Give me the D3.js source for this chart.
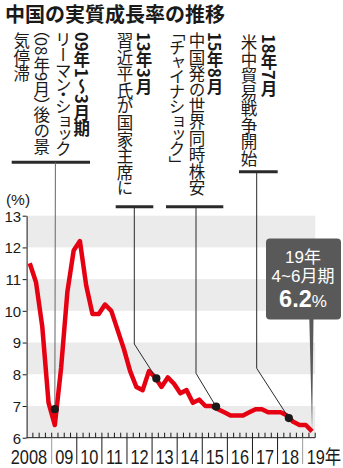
<!DOCTYPE html>
<html>
<head>
<meta charset="utf-8">
<script src="https://cdn.jsdelivr.net/npm/d3@7"></script>
<style>
  html, body { margin: 0; padding: 0; background: #fff; }
  svg { display: block; }
  .vcol { writing-mode: vertical-rl; text-orientation: mixed; font-feature-settings: "vpal" 1; }
  .tcy { text-combine-upright: all; }
</style>
</head>
<body>
<svg id="chart" width="343" height="468"></svg>
<script>
// ---- data ----
const title = "中国の実質成長率の推移";
const startYear = 2008;
// real GDP growth, % year on year, quarterly from 2008 Q1 to 2019 Q2
const growth = [
  11.5, 10.9, 9.5, 7.1,
  6.4, 8.2, 10.6, 11.9,
  12.2, 10.8, 9.9, 9.9,
  10.2, 10.0, 9.4, 8.8,
  8.1, 7.6, 7.5, 8.1,
  7.9, 7.6, 7.9, 7.7,
  7.4, 7.5, 7.1, 7.2,
  7.0, 7.0, 6.9, 6.8,
  6.7, 6.7, 6.7, 6.8,
  6.9, 6.9, 6.8, 6.8,
  6.8, 6.7, 6.5, 6.4,
  6.4, 6.2
];
const yTicks = [6, 7, 8, 9, 10, 11, 12, 13];
const yearLabels = ["2008", "09", "10", "11", "12", "13", "14", "15", "16", "17", "18", "19年"];
const eventDates = [2009.125, 2013.17, 2015.55, 2018.45];
const eventValues = [6.9, 7.87, 6.98, 6.62];
const eventHeads = ["09年1～3月期", "13年3月", "15年8月", "18年7月"];
const eventTexts = [
  ["リーマン・ショック", "（08年9月）後の景", "気停滞"],
  ["習近平氏が国家主席に"],
  ["中国発の世界同時株安", "「チャイナショック」"],
  ["米中貿易戦争開始"]
];
const calloutLines = ["19年", "4~6月期"];

// ---- layout ----
const JP = "'Noto Sans CJK JP', 'Noto Sans', sans-serif";
const NUM = "'Liberation Sans', 'Noto Sans', sans-serif";
// Latin-first stack: digits from Liberation, kanji fall back to Noto CJK
const MIX = "'Liberation Sans', 'Noto Sans CJK JP', sans-serif";
const RED = "#e50012";
const INK = "#1a1a1a";

// placement of each event's caption block and leader
const eventLayout = [
  { barY: 162.3, barX: [11.7, 90], stemX: 55.4, elbowY: null, cols: [81.7, 63.3, 41.7, 21.7], tops: [32, 32, 29, 32] },
  { barY: 206.7, barX: [115.7, 153.3], stemX: 134.3, elbowY: 344, cols: [144, 125], tops: [32, 32] },
  { barY: 206.7, barX: [166, 223.3], stemX: 196, elbowY: 373.3, cols: [215, 197, 177], tops: [32, 32, 32] },
  { barY: 171.7, barX: [239, 277.7], stemX: 256.7, elbowY: 368.3, cols: [269, 249], tops: [34, 34] }
];

const svg = d3.select("#chart");

const x = d3.scaleLinear().domain([startYear, 2019.5]).range([26.6, 315.2]);
const y = d3.scaleLinear().domain([6, 13]).range([437.7, 215.7]);
const qx = i => x(startYear + (i + 0.5) / 4);

// title
svg.append("text")
  .attr("x", 5).attr("y", 22)
  .attr("font-family", JP).attr("font-weight", 700).attr("font-size", 20)
  .attr("fill", INK)
  .text(title);

// alternating horizontal bands
svg.append("g").selectAll("rect")
  .data(yTicks.filter(v => v % 2 === 0 && v < 13))
  .join("rect")
  .attr("x", x(startYear)).attr("width", x(2019.5) - x(startYear))
  .attr("y", d => y(d + 1)).attr("height", d => y(d) - y(d + 1))
  .attr("fill", "#ebebeb");

// y axis
const yAxis = svg.append("g")
  .attr("transform", `translate(${x(startYear)},0)`)
  .call(d3.axisLeft(y).tickValues(yTicks).tickFormat(d3.format("d"))
    .tickSize(4).tickSizeOuter(0).tickPadding(1.5));
yAxis.select(".domain").attr("stroke", INK);
yAxis.selectAll(".tick line").attr("stroke", INK);
yAxis.selectAll(".tick text")
  .attr("font-family", NUM).attr("font-size", 15).attr("fill", INK)
  .attr("dy", "0.36em");

svg.append("text")
  .attr("x", 18).attr("y", 205)
  .attr("text-anchor", "middle")
  .attr("font-family", NUM).attr("font-size", 15.5).attr("fill", INK)
  .text("(%)");

// x axis: baseline, quarter ticks, year separators, labels
const xg = svg.append("g");
xg.append("line")
  .attr("x1", x(startYear)).attr("x2", x(2019.5))
  .attr("y1", y(6)).attr("y2", y(6))
  .attr("stroke", INK);
xg.selectAll(".qtick")
  .data(d3.range(startYear + 0.25, 2019.5 + 0.01, 0.25))
  .join("line")
  .attr("x1", d => x(d)).attr("x2", d => x(d))
  .attr("y1", y(6) - 5).attr("y2", y(6))
  .attr("stroke", INK);
const years = yearLabels.map((_, i) => startYear + i);
xg.selectAll(".sep")
  .data(years.slice(1))
  .join("line")
  .attr("x1", d => x(d)).attr("x2", d => x(d))
  .attr("y1", y(6)).attr("y2", 464)
  .attr("stroke", (d, i, a) => (i === 0 || i === a.length - 1) ? "#9a9a9a" : INK);
xg.selectAll(".ylab")
  .data(yearLabels)
  .join("text")
  .attr("transform", (d, i) => {
    const yr = startYear + i;
    let px = x(yr + 0.5);
    if (i === 0) px = x(yr + 1) - 4.5;
    if (i === yearLabels.length - 1) px = x(yr) + 4;
    return `translate(${px},463.8) scale(0.84,1)`;
  })
  .attr("text-anchor", (d, i) => i === 0 ? "end" : (i === yearLabels.length - 1 ? "start" : "middle"))
  .attr("font-family", MIX)
  .attr("font-size", 19.5).attr("fill", INK)
  .text(d => d);

// growth line
svg.append("path")
  .datum(growth)
  .attr("d", d3.line().x((d, i) => qx(i)).y(d => y(d)))
  .attr("fill", "none")
  .attr("stroke", RED)
  .attr("stroke-width", 4.5)
  .attr("stroke-linejoin", "round");

// event leaders and markers
const lead = svg.append("g");
eventDates.forEach((dt, k) => {
  const L = eventLayout[k];
  const px = x(dt), py = y(eventValues[k]);
  lead.append("line")
    .attr("x1", L.barX[0]).attr("x2", L.barX[1])
    .attr("y1", L.barY).attr("y2", L.barY)
    .attr("stroke", "#2a2a2a").attr("stroke-width", 3);
  const p = d3.path();
  p.moveTo(L.stemX, L.barY);
  if (L.elbowY !== null) p.lineTo(L.stemX, L.elbowY);
  p.lineTo(px, py);
  lead.append("path")
    .attr("d", p.toString())
    .attr("fill", "none")
    .attr("stroke", k === 0 ? "#666" : "#2a2a2a").attr("stroke-width", 1);
  lead.append("circle")
    .attr("cx", px).attr("cy", py).attr("r", 4.1)
    .attr("fill", INK);
});

// vertical caption columns (tategaki); each character its own span,
// digit runs set upright side by side
function verticalColumn(g, cx, top, str, bold) {
  const runs = str.match(/\d+|./gu);
  const txt = g.append("text")
    .attr("class", "vcol")
    .attr("x", cx).attr("y", top)
    .attr("font-family", JP)
    .attr("font-weight", bold ? 700 : 400)
    .attr("font-size", 16.5)
    .attr("fill", INK);
  runs.forEach(r => {
    const ts = txt.append("tspan").text(r);
    if (/^\d+$/.test(r)) ts.attr("class", "tcy");
  });
}
const cap = svg.append("g");
eventHeads.forEach((head, k) => {
  const L = eventLayout[k];
  verticalColumn(cap, L.cols[0], L.tops[0], head, true);
  eventTexts[k].forEach((line, j) => verticalColumn(cap, L.cols[j + 1], L.tops[j + 1], line, false));
});

// callout for the latest quarter
const last = growth.length - 1;
const co = svg.append("g");
co.append("path")
  .attr("d", `M309.3,318 L313.5,318 L${qx(last)},${y(growth[last])} Z`)
  .attr("fill", "#595959");
co.append("rect")
  .attr("x", 266).attr("y", 238.5).attr("width", 75).attr("height", 81).attr("rx", 4)
  .attr("fill", "#595959");
co.selectAll(".cl")
  .data(calloutLines)
  .join("text")
  .attr("x", 303).attr("y", (d, i) => 263.2 + i * 19.1)
  .attr("text-anchor", "middle")
  .attr("font-family", MIX).attr("font-size", 17).attr("fill", "#fff")
  .text(d => d);
const vt = co.append("text")
  .attr("x", 303).attr("y", 307)
  .attr("text-anchor", "middle")
  .attr("font-family", NUM).attr("font-weight", 700).attr("fill", "#fff");
vt.append("tspan").attr("font-size", 23.5).text(d3.format(".1f")(growth[last]));
vt.append("tspan").attr("font-size", 17).attr("font-weight", 400).text("%");
</script>
</body>
</html>
